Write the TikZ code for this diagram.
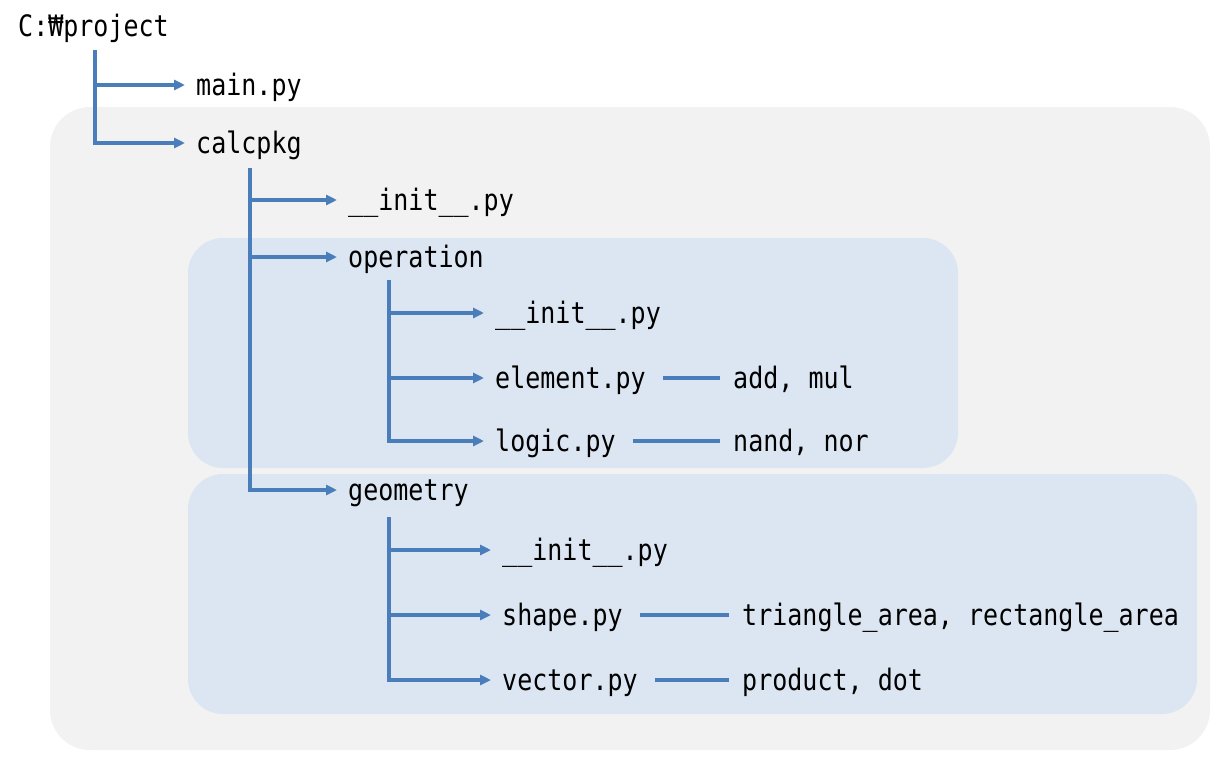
\documentclass[tikz,border=0pt]{standalone}
\usepackage{fontspec}
\setmonofont[FakeStretch=0.848]{DejaVu Sans Mono}
\usetikzlibrary{arrows.meta}
\definecolor{linec}{HTML}{4A7EBB}
\definecolor{outerbg}{HTML}{F2F2F2}
\definecolor{innerbg}{HTML}{DCE6F2}
\begin{document}
\begin{tikzpicture}[x=1pt,y=-1pt,
  lbl/.style={anchor=west,inner sep=0pt,font=\ttfamily\fontsize{29.5}{29.5}\selectfont,text height=20pt,text depth=0pt},
  conn/.style={draw=linec,line width=3.4pt},
  arr/.style={conn,-{Triangle[length=11pt,width=10pt]},shorten >=11pt},
  fnline/.style={conn,shorten <=17pt,shorten >=13pt},
  ]
\useasboundingbox (0,0) rectangle (1225,768);
% backgrounds
\fill[outerbg,rounded corners=40pt] (50,107) rectangle (1210,750);
\fill[innerbg,rounded corners=35pt] (188,238) rectangle (958,468);
\fill[innerbg,rounded corners=35pt] (188,474) rectangle (1197,714);
% labels
\node[lbl] (root) at (18,27) {C:₩project};
\node[lbl] (main) at (196,85) {main.py};
\node[lbl] (calc) at (196,143) {calcpkg};
\node[lbl] (init1) at (348,200) {\_\_init\_\_.py};
\node[lbl] (op) at (348,257) {operation};
\node[lbl] (geo) at (348,490) {geometry};
\node[lbl] (init2) at (495,313) {\_\_init\_\_.py};
\node[lbl] (elem) at (495,378) {element.py};
\node[lbl] (logic) at (495,441) {logic.py};
\node[lbl] (add) at (733,378) {add, mul};
\node[lbl] (nand) at (733,441) {nand, nor};
\node[lbl] (init3) at (502,550) {\_\_init\_\_.py};
\node[lbl] (shape) at (502,615) {shape.py};
\node[lbl] (vector) at (502,680) {vector.py};
\node[lbl] (tri) at (742,615) {triangle\_area, rectangle\_area};
\node[lbl] (prod) at (742,680) {product, dot};
% trunks
\coordinate (t0) at (95,50);
\coordinate (t1) at (250,168);
\coordinate (t2) at (389,280);
\coordinate (t3) at (389,517);
\draw[arr] (t0) |- (calc.west);
\draw[arr] (t0 |- main.west) -- (main.west);
\draw[arr] (t1) |- (geo.west);
\draw[arr] (t1 |- init1.west) -- (init1.west);
\draw[arr] (t1 |- op.west) -- (op.west);
\draw[arr] (t2) |- (logic.west);
\draw[arr] (t2 |- init2.west) -- (init2.west);
\draw[arr] (t2 |- elem.west) -- (elem.west);
\draw[arr] (t3) |- (vector.west);
\draw[arr] (t3 |- init3.west) -- (init3.west);
\draw[arr] (t3 |- shape.west) -- (shape.west);
% function lines
\draw[fnline] (elem.east) -- (add.west);
\draw[fnline] (logic.east) -- (nand.west);
\draw[fnline] (shape.east) -- (tri.west);
\draw[fnline] (vector.east) -- (prod.west);
\end{tikzpicture}
\end{document}
